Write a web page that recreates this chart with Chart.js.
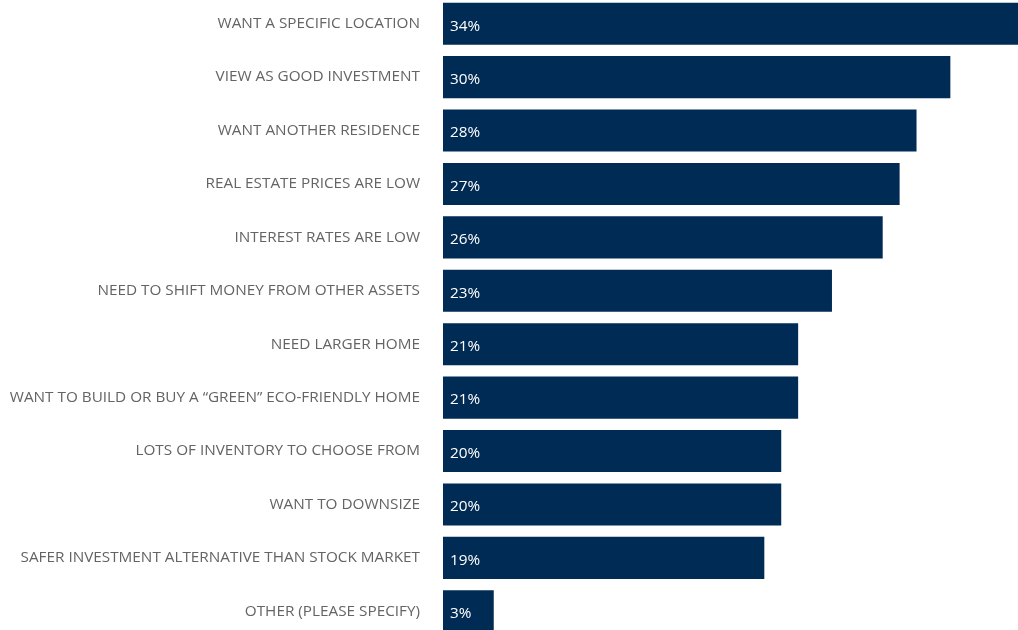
<!DOCTYPE html>
<html>
<head>
<meta charset="utf-8">
<script src="https://cdn.jsdelivr.net/npm/chart.js@4"></script>
<style>
  html, body { margin: 0; padding: 0; background: #ffffff; overflow: hidden; }
  #wrap { position: absolute; left: 0; top: -3px; width: 1018px; height: 641px; }
</style>
</head>
<body>
<div id="wrap"><canvas id="chart"></canvas></div>
<script>
// Reasons for buying property, share of respondents (%)
const reasons = [
  "WANT A SPECIFIC LOCATION",
  "VIEW AS GOOD INVESTMENT",
  "WANT ANOTHER RESIDENCE",
  "REAL ESTATE PRICES ARE LOW",
  "INTEREST RATES ARE LOW",
  "NEED TO SHIFT MONEY FROM OTHER ASSETS",
  "NEED LARGER HOME",
  "WANT TO BUILD OR BUY A \u201CGREEN\u201D ECO-FRIENDLY HOME",
  "LOTS OF INVENTORY TO CHOOSE FROM",
  "WANT TO DOWNSIZE",
  "SAFER INVESTMENT ALTERNATIVE THAN STOCK MARKET",
  "OTHER (PLEASE SPECIFY)"
];
const shares = [34, 30, 28, 27, 26, 23, 21, 21, 20, 20, 19, 3];

// Writes each value as a percentage at the inner left end of its bar
const valueLabels = {
  id: 'valueLabels',
  afterDatasetsDraw(chart) {
    const ctx = chart.ctx;
    const meta = chart.getDatasetMeta(0);
    ctx.save();
    ctx.fillStyle = '#ffffff';
    ctx.font = '15.3px "Open Sans"';
    ctx.textAlign = 'left';
    ctx.textBaseline = 'middle';
    meta.data.forEach((bar, i) => {
      ctx.fillText(shares[i] + '%', bar.base + 7, bar.y + 2.5);
    });
    ctx.restore();
  }
};

new Chart(document.getElementById('chart'), {
  type: 'bar',
  data: {
    labels: reasons,
    datasets: [{
      data: shares,
      backgroundColor: '#002b54',
      borderWidth: 0,
      barPercentage: 1,
      categoryPercentage: 0.787
    }]
  },
  options: {
    indexAxis: 'y',
    responsive: true,
    maintainAspectRatio: false,
    animation: false,
    layout: { padding: 0 },
    plugins: {
      legend: { display: false },
      tooltip: { enabled: false }
    },
    scales: {
      x: {
        display: false,
        min: 0,
        max: 34
      },
      y: {
        grid: { display: false },
        border: { display: false },
        ticks: {
          color: '#646464',
          font: { family: '"Open Sans"', size: 15.3 },
          padding: 15,
          autoSkip: false
        },
        afterFit(scale) {
          scale.width = 443;
          scale.paddingTop = 0;
          scale.paddingBottom = 0;
        }
      }
    }
  },
  plugins: [valueLabels]
});
</script>
</body>
</html>
